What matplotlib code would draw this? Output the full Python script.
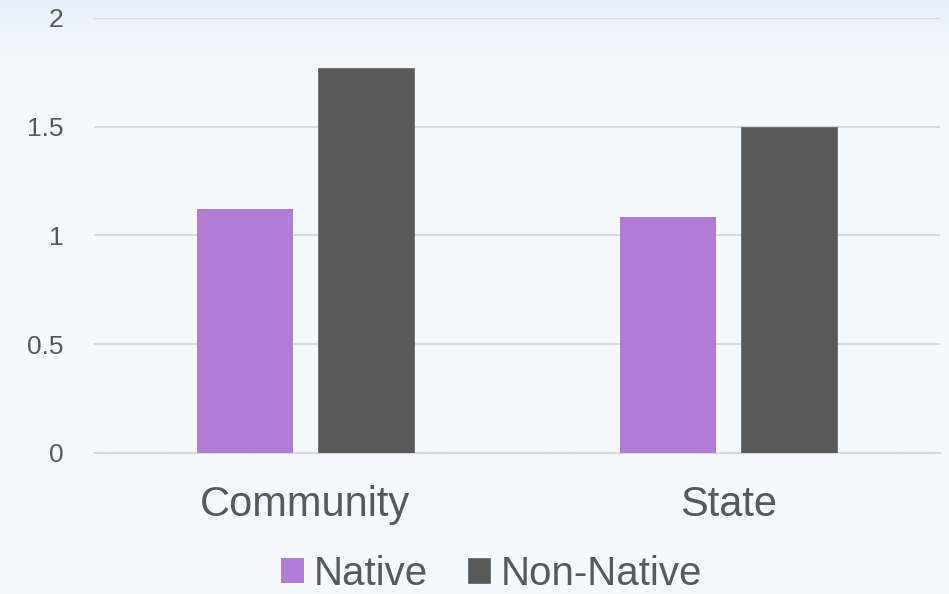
import numpy as np
import matplotlib.pyplot as plt

categories = ["Community", "State"]
native = [1.12, 1.085]
non_native = [1.77, 1.50]
yticks = [0, 0.5, 1, 1.5, 2]
ytick_labels = ["0", "0.5", "1", "1.5", "2"]

text_color = "#595959"
font = "Liberation Sans"

fig = plt.figure(figsize=(9.49, 5.94), dpi=100)

# фон с лёгким градиентом сверху
bg = fig.add_axes([0, 0, 1, 1], zorder=-10)
grad = np.linspace(0, 1, 200)
grad = np.clip(grad / 0.12, 0, 1)
top = np.array([232, 240, 250]) / 255
bottom = np.array([245, 249, 253]) / 255
img = (top[None, :] * (1 - grad[:, None]) + bottom[None, :] * grad[:, None])[:, None, :]
bg.imshow(img, aspect="auto", extent=[0, 1, 0, 1], origin="upper")
bg.axis("off")

ax = fig.add_axes([0.099, 0.2374, 0.8915, 0.7323])
ax.patch.set_alpha(0)

x = np.arange(len(categories))
w = 0.225
off = 0.143
ax.bar(x - off, native, w, color="#b07cd8", label="Native", zorder=3)
ax.bar(x + off, non_native, w, color="#595959", edgecolor="#6b6b6b", linewidth=0.6,
       label="Non-Native", zorder=3)

ax.set_xlim(-0.5, 1.5)
ax.set_ylim(0, 2)
ax.set_yticks(yticks)
ax.set_yticklabels(ytick_labels, fontsize=19, color=text_color, fontfamily=font)
ax.set_xticks(x)
ax.set_xticklabels(categories, fontsize=30, color=text_color, fontfamily=font)
ax.tick_params(axis="both", length=0)
ax.tick_params(axis="y", pad=22)
ax.tick_params(axis="x", pad=23)
ax.grid(axis="y", color="#d9d9d9", linewidth=1.5, zorder=0)
for s in ["top", "right", "left"]:
    ax.spines[s].set_visible(False)
ax.spines["bottom"].set_color("#d9d9d9")
ax.spines["bottom"].set_linewidth(1.5)

leg = fig.legend(loc="center", bbox_to_anchor=(0.518, 0.034), ncol=2, frameon=False,
                 prop={"family": font, "size": 29}, handlelength=0.55, handleheight=0.55,
                 handletextpad=0.25, columnspacing=1.0, borderpad=0)
for t in leg.get_texts():
    t.set_color(text_color)

fig.savefig("out.png", dpi=100)
